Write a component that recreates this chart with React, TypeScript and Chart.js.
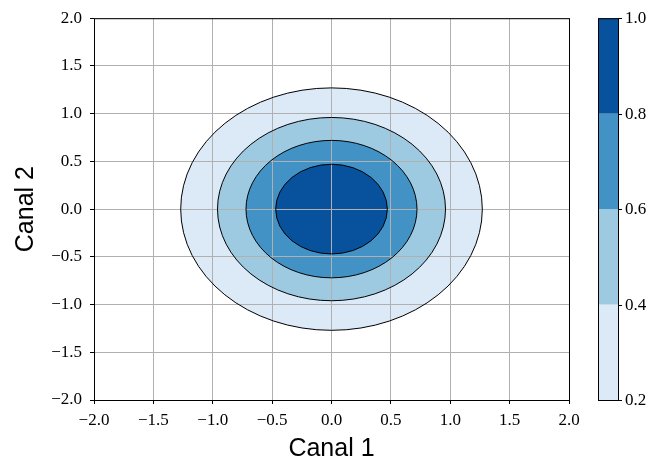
import React, { useEffect, useRef } from 'react';
import { Chart, registerables } from 'chart.js';

Chart.register(...registerables);

// Contour levels of the density shown in the colour bar
const levels = [0.2, 0.4, 0.6, 0.8, 1.0];
// Radius of the iso-line that bounds each filled band (lower level of the band)
const contourRadii = [1.27, 0.96, 0.72, 0.47];
// Fill colour of each band (0.2–0.4, 0.4–0.6, 0.6–0.8, 0.8–1.0)
const bandColors = ['#dce9f6', '#9ecae1', '#4292c6', '#08519c'];
// Centre of the distribution (Canal 1, Canal 2)
const centre = [0, 0];
// Tick positions shared by both axes
const axisTicks = [-2, -1.5, -1, -0.5, 0, 0.5, 1, 1.5, 2];

const xTitle = 'Canal 1';
const yTitle = 'Canal 2';

const tickFont = { family: '"Liberation Serif", serif', size: 17 };
const titleFont = '25px "Liberation Sans", sans-serif';

const fmt = (v: number) => {
  const s = Math.abs(v).toFixed(1);
  return v < 0 ? '\u2212' + s : s;
};

const contourPlugin = {
  id: 'contours',
  beforeDraw(chart: any) {
    const { ctx, chartArea: a, scales } = chart;
    const x = scales.x;
    const y = scales.y;
    const cx = x.getPixelForValue(centre[0]);
    const cy = y.getPixelForValue(centre[1]);
    ctx.save();
    ctx.beginPath();
    ctx.rect(a.left, a.top, a.right - a.left, a.bottom - a.top);
    ctx.clip();
    contourRadii.forEach((r, i) => {
      const rx = Math.abs(x.getPixelForValue(centre[0] + r) - cx);
      const ry = Math.abs(y.getPixelForValue(centre[1] + r) - cy);
      ctx.beginPath();
      ctx.ellipse(cx, cy, rx, ry, 0, 0, Math.PI * 2);
      ctx.fillStyle = bandColors[i];
      ctx.fill();
    });
    ctx.restore();
  },
  beforeDatasetsDraw(chart: any) {
    const { ctx, chartArea: a, scales } = chart;
    const x = scales.x;
    const y = scales.y;
    const cx = x.getPixelForValue(centre[0]);
    const cy = y.getPixelForValue(centre[1]);
    ctx.save();
    ctx.beginPath();
    ctx.rect(a.left, a.top, a.right - a.left, a.bottom - a.top);
    ctx.clip();
    ctx.strokeStyle = '#000';
    ctx.lineWidth = 1;
    contourRadii.forEach((r) => {
      const rx = Math.abs(x.getPixelForValue(centre[0] + r) - cx);
      const ry = Math.abs(y.getPixelForValue(centre[1] + r) - cy);
      ctx.beginPath();
      ctx.ellipse(cx, cy, rx, ry, 0, 0, Math.PI * 2);
      ctx.stroke();
    });
    ctx.restore();
  },
  afterDraw(chart: any) {
    const { ctx, chartArea: a, scales } = chart;
    ctx.save();
    // axes frame
    ctx.strokeStyle = '#000';
    ctx.lineWidth = 1;
    ctx.strokeRect(a.left + 0.5, a.top + 0.5, a.right - a.left, a.bottom - a.top);

    // colour bar
    const cb = scales.cb;
    const lo = levels[0];
    const hi = levels[levels.length - 1];
    const py = (v: number) =>
      cb && Number.isFinite(cb.getPixelForValue(v)) && cb.bottom > cb.top
        ? cb.getPixelForValue(v)
        : a.bottom - ((v - lo) / (hi - lo)) * (a.bottom - a.top);
    const barL = a.right + 29;
    const barR = barL + 20;
    for (let i = 0; i < bandColors.length; i++) {
      const y0 = py(levels[i]);
      const y1 = py(levels[i + 1]);
      ctx.fillStyle = bandColors[i];
      ctx.fillRect(barL, y1, barR - barL, y0 - y1);
    }
    ctx.strokeRect(barL + 0.5, py(hi) + 0.5, barR - barL, py(lo) - py(hi));
    ctx.font = `${tickFont.size}px ${tickFont.family}`;
    ctx.fillStyle = '#000';
    ctx.textAlign = 'left';
    ctx.textBaseline = 'middle';
    levels.forEach((v) => {
      const yy = Math.round(py(v)) + 0.5;
      ctx.beginPath();
      ctx.moveTo(barR, yy);
      ctx.lineTo(barR + 4, yy);
      ctx.stroke();
      ctx.fillText(fmt(v), barR + 7, yy);
    });

    // axis titles
    ctx.font = titleFont;
    ctx.textAlign = 'center';
    ctx.textBaseline = 'alphabetic';
    ctx.fillText(xTitle, (a.left + a.right) / 2, a.bottom + 56);
    ctx.translate(a.left - 61, (a.top + a.bottom) / 2);
    ctx.rotate(-Math.PI / 2);
    ctx.fillText(yTitle, 0, 0);
    ctx.restore();
  },
};

const axis = (size: 'w' | 'h') => ({
  type: 'linear' as const,
  min: -2,
  max: 2,
  afterBuildTicks: (s: any) => {
    s.ticks = axisTicks.map((v) => ({ value: v }));
  },
  afterFit: (s: any) => {
    if (size === 'w') s.width = 94;
    else s.height = 59;
  },
  grid: {
    color: '#b0b0b0',
    lineWidth: 1,
    tickColor: '#000',
    tickLength: 4,
    tickWidth: 1,
  },
  border: { display: false },
  ticks: {
    color: '#000',
    font: tickFont,
    padding: size === 'w' ? 8 : 6,
    maxRotation: 0,
    callback: (v: any) => fmt(Number(v)),
  },
});

export default function App() {
  const ref = useRef<HTMLCanvasElement>(null);

  useEffect(() => {
    if (!ref.current) return;
    const chart = new Chart(ref.current, {
      type: 'scatter',
      data: { datasets: [] },
      options: {
        animation: false,
        responsive: false,
        devicePixelRatio: 1,
        layout: { padding: { top: 16, right: 84, left: 0, bottom: 0 } },
        plugins: { legend: { display: false }, tooltip: { enabled: false } },
        scales: {
          x: { ...axis('h'), position: 'bottom' },
          y: { ...axis('w'), position: 'left' },
          cb: { type: 'linear', position: 'right', display: false, min: levels[0], max: levels[levels.length - 1] },
        },
      },
      plugins: [contourPlugin],
    });
    return () => chart.destroy();
  }, []);

  return (
    <div style={{ position: 'fixed', left: 0, top: 0, width: 653, height: 459, background: '#fff' }}>
      <canvas ref={ref} width={653} height={459} style={{ display: 'block' }} />
    </div>
  );
}
